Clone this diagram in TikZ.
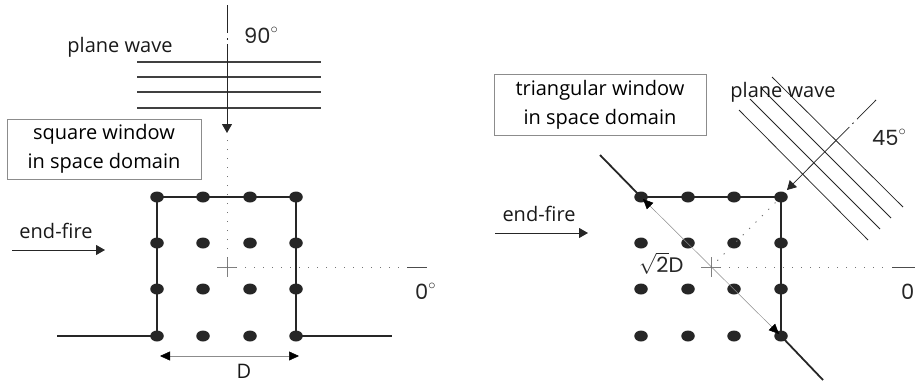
\documentclass[tikz,border=0pt]{standalone}
\usepackage{fontspec}
\setmainfont{Open Sans}
\newfontfamily\numfont{Poppins}
\usetikzlibrary{arrows.meta,shapes.geometric}
\newcommand{\mydegree}{\raisebox{2pt}{$^{\circ}$}}
\begin{document}
\begin{tikzpicture}[x=1pt,y=-1pt,
  lbl/.style={font=\fontsize{20}{29}\selectfont, text=black!90, inner sep=0pt, align=center},
  num/.style={font=\numfont\fontsize{21}{24}\selectfont, text=black!85, inner sep=0pt},
  winbox/.style={draw=black!45, line width=0.8pt, minimum width=194pt, minimum height=60pt, inner sep=0pt, align=center, font=\fontsize{20}{29}\selectfont},
  dot/.style={ellipse, fill=black!85, minimum width=13.5pt, minimum height=11pt, inner sep=0pt},
  win/.style={line width=1.8pt, black!85},
  wave/.style={line width=1.2pt, black!75},
  wavethin/.style={line width=0.75pt, black!85},
  dots/.style={line width=1pt, black!55, dash pattern=on 1.2pt off 7.8pt},
  cross/.style={line width=0.5pt, black!50},
  tip/.style={-{Triangle[length=9pt,width=10pt]}, line width=0.9pt, black!85},
  dimarrow/.style={{Triangle[length=10pt,width=9pt,color=black]}-{Triangle[length=10pt,width=9pt,color=black]}, line width=0.5pt, black!45}
]
\useasboundingbox (0,0) rectangle (915,383);
\clip (0,0) rectangle (915,383);

% ---------------- left: square window ----------------
\foreach \i/\x in {1/157,2/203,3/250,4/296}
  \foreach \j/\y in {1/197,2/243,3/289,4/336}
    \node[dot] (L\i\j) at (\x,\y) {};

\coordinate (Lb1) at (57,336);
\coordinate (Lb2) at (392,336);
\draw[win] (Lb1) -- (L14.center) -- (L11.center) -- (L41.center) -- (L44.center) -- (Lb2);

% plane wave lines
\foreach \k/\y in {1/62,2/77,3/92,4/108}{
  \coordinate (pwa\k) at (137,\y);
  \coordinate (pwb\k) at (321,\y);
  \draw[wave] (pwa\k) -- (pwb\k);
}

% center cross
\coordinate (cL) at (227,267);
\coordinate (cLl) at (217,267); \coordinate (cLr) at (237,267);
\coordinate (cLt) at (227,257); \coordinate (cLb) at (227,277);
\draw[cross] (cLl) -- (cLr); \draw[cross] (cLt) -- (cLb);

% 90 degree arrow
\coordinate (aL0) at (227,5);
\coordinate (aL1) at (227,133);
\draw[tip, dash pattern=on 28pt off 5pt on 1.5pt off 4.5pt on 300pt] (aL0) -- (aL1);
\coordinate (aL2) at (227,137);
\draw[dots] (cL) -- (aL2);

% 0 degree axis
\coordinate (hL1) at (405,267);
\coordinate (hL2) at (407,267);
\coordinate (hL3) at (427,267);
\draw[dots] (cL) -- (hL1);
\draw[line width=0.9pt, black!70] (hL2) -- (hL3);

% end-fire
\coordinate (efL0) at (12,250);
\coordinate (efL1) at (105,250);
\draw[tip] (efL0) -- (efL1);
\node[lbl, anchor=base] (efLt) at (56,238) {end-fire};

% D dimension
\coordinate (dL0) at (160,356);
\coordinate (dL1) at (299,356);
\draw[dimarrow] (dL0) -- (dL1);
\node[lbl, anchor=base] (Dt) at (244,378) {D};

% labels
\node[lbl, anchor=base] (pwLt) at (120,52) {plane wave};
\node[num, anchor=base west] (n90) at (244,43) {90\mydegree};
\node[num, anchor=base west] (n0L) at (415,299) {0\mydegree};
\node[winbox] (boxL) at (104,149) {square window\\in space domain};

% ---------------- right: triangular window ----------------
\foreach \i/\x in {1/641,2/688,3/734,4/781}
  \foreach \j/\y in {1/197,2/243,3/289,4/336}
    \node[dot] (R\i\j) at (\x,\y) {};

\coordinate (Rb1) at (600,155);
\coordinate (Rb2) at (823,380);
\draw[win] (Rb1) -- (R11.center) -- (R41.center) -- (R44.center) -- (Rb2);

% center cross
\coordinate (cR) at (711,267);
\coordinate (cRl) at (701,267); \coordinate (cRr) at (721,267);
\coordinate (cRt) at (711,257); \coordinate (cRb) at (711,277);
\draw[cross] (cRl) -- (cRr); \draw[cross] (cRt) -- (cRb);

% sqrt2 D diagonal
\coordinate (gR0) at (643,199);
\coordinate (gR1) at (779,334);
\draw[dimarrow] (gR0) -- (gR1);
\node[num, anchor=base west] (s2D) at (639,272) {$\sqrt{\hbox{\numfont\fontsize{21}{24}\selectfont 2}}$D};

% dotted diagonal to corner
\coordinate (dR1) at (777,201);
\draw[dots] (cR) -- (dR1);

% 0 degree axis
\coordinate (hR1) at (890,267);
\coordinate (hR2) at (892,267);
\coordinate (hR3) at (915,267);
\draw[dots] (cR) -- (hR1);
\draw[line width=0.9pt, black!70] (hR2) -- (hR3);

% plane wave lines (45 degrees)
\foreach \k/\xa/\ya/\xb/\yb in {1/739/110/868/240, 2/750/99/880/229, 3/761/88/891/218, 4/772/77/903/207}{
  \coordinate (qa\k) at (\xa,\ya);
  \coordinate (qb\k) at (\xb,\yb);
  \draw[wavethin] (qa\k) -- (qb\k);
}

% 45 degree arrow
\coordinate (aR0) at (876,100);
\coordinate (aR1) at (787,190);
\draw[tip, line width=0.75pt, dash pattern=on 27pt off 5pt on 1.5pt off 4.5pt on 300pt] (aR0) -- (aR1);

% end-fire
\coordinate (efR0) at (495,233);
\coordinate (efR1) at (588,233);
\draw[tip] (efR0) -- (efR1);
\node[lbl, anchor=base] (efRt) at (539,221) {end-fire};

% labels
\node[lbl, anchor=base] (pwRt) at (783,97) {plane wave};
\node[num, anchor=base west] (n45) at (872,145) {45\mydegree};
\node[num, anchor=base west] (n0R) at (901,299) {0\mydegree};
\node[winbox, minimum width=212pt, minimum height=61pt] (boxR) at (600,104.5) {triangular window\\in space domain};
\end{tikzpicture}
\end{document}
